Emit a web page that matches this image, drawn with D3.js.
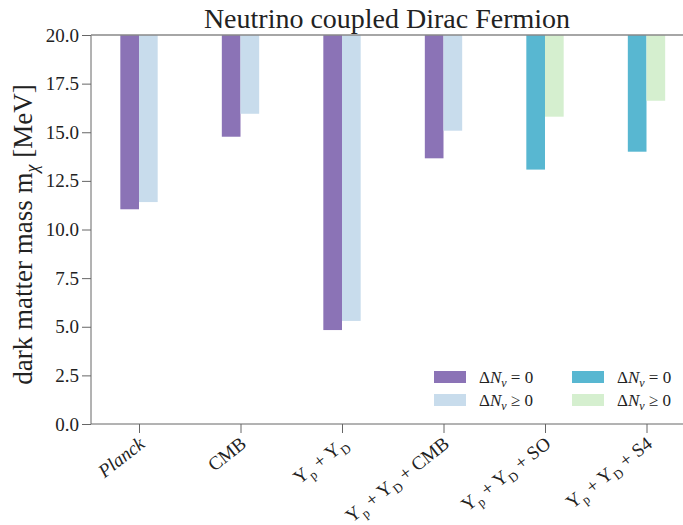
<!DOCTYPE html>
<html>
<head>
<meta charset="utf-8">
<script src="https://cdn.jsdelivr.net/npm/d3@7"></script>
<style>
  body { margin: 0; background: #fff; }
  text { font-family: 'Liberation Serif', 'DejaVu Serif', serif; fill: #222; }
</style>
</head>
<body>
<svg id="chart" width="683" height="525"></svg>
<script>
var categories = ['Planck', 'CMB', 'YpYD', 'YpYDCMB', 'YpYDSO', 'YpYDS4'];
// lower bound on m_chi, Delta N_nu = 0 and Delta N_nu >= 0
var fixedNeff = [11.04, 14.77, 4.83, 13.66, 13.08, 14.0];
var freeNeff = [11.41, 15.95, 5.3, 15.08, 15.8, 16.62];
var yTicks = [0, 2.5, 5, 7.5, 10, 12.5, 15, 17.5, 20];

var colFixed = ['#8b73b6', '#8b73b6', '#8b73b6', '#8b73b6', '#58b7d1', '#58b7d1'];
var colFree = ['#c8dcec', '#c8dcec', '#c8dcec', '#c8dcec', '#d5efcf', '#d5efcf'];

var margin = { top: 35, right: 0, bottom: 101, left: 91 };
var width = 683 - margin.left - margin.right;
var height = 525 - margin.top - margin.bottom;

var svg = d3.select('#chart');
var chart = svg.append('g')
  .attr('transform', 'translate(' + margin.left + ',' + margin.top + ')');

var x = d3.scalePoint().domain(categories).range([48, 555.5]);
var barW = x.step() * 0.184;
var y = d3.scaleLinear().domain([0, 20]).range([height, 0]);

// bars hang from the top of the plot down to the bound
chart.selectAll('.fixed')
  .data(categories)
  .enter().append('rect')
  .attr('class', 'fixed')
  .attr('x', d => x(d) - barW)
  .attr('y', y(20))
  .attr('width', barW)
  .attr('height', (d, i) => y(fixedNeff[i]) - y(20))
  .style('fill', (d, i) => colFixed[i]);

chart.selectAll('.free')
  .data(categories)
  .enter().append('rect')
  .attr('class', 'free')
  .attr('x', d => x(d))
  .attr('y', y(20))
  .attr('width', barW)
  .attr('height', (d, i) => y(freeNeff[i]) - y(20))
  .style('fill', (d, i) => colFree[i]);

// axes
var yAxis = d3.axisLeft(y).tickValues(yTicks).tickFormat(d3.format('.1f')).tickSize(9).tickPadding(3);
var gy = chart.append('g').attr('class', 'y axis').call(yAxis);
gy.selectAll('text').style('font-size', '19px').style('fill', '#222');

var xAxis = d3.axisBottom(x).tickSize(9).tickFormat('');
var gx = chart.append('g').attr('class', 'x axis')
  .attr('transform', 'translate(0,' + height + ')')
  .call(xAxis);

chart.selectAll('.domain').remove();
chart.selectAll('.tick line').style('stroke', '#666');

chart.append('line').attr('x1', 0).attr('x2', 0).attr('y1', 0).attr('y2', height).style('stroke', '#666');
chart.append('line').attr('x1', 0).attr('x2', width).attr('y1', height).attr('y2', height).style('stroke', '#666');
chart.append('line').attr('x1', 0).attr('x2', width).attr('y1', 0).attr('y2', 0).style('stroke', '#888').style('stroke-width', 1.5);

// x tick labels, rotated
var labelParts = {
  'Planck': [['Planck', 'i']],
  'CMB': [['CMB']],
  'YpYD': [['Y'], ['p', 's'], [' + Y'], ['D', 's']],
  'YpYDCMB': [['Y'], ['p', 's'], [' + Y'], ['D', 's'], [' + CMB']],
  'YpYDSO': [['Y'], ['p', 's'], [' + Y'], ['D', 's'], [' + SO']],
  'YpYDS4': [['Y'], ['p', 's'], [' + Y'], ['D', 's'], [' + S4']]
};
categories.forEach(function(c) {
  var t = chart.append('text')
    .attr('transform', 'translate(' + (x(c) + 7) + ',' + (height + 22) + ') rotate(-38)')
    .attr('text-anchor', 'end')
    .style('font-size', '19px');
  var shifted = false;
  labelParts[c].forEach(function(p) {
    var ts = t.append('tspan').text(p[0]);
    if (p[1] === 'i') ts.style('font-style', 'italic');
    if (p[1] === 's') {
      ts.attr('dy', 5).style('font-size', '13px');
      shifted = true;
    } else if (shifted) {
      ts.attr('dy', -5);
      shifted = false;
    }
  });
});

// y label
var yl = svg.append('text')
  .attr('transform', 'translate(32,' + (margin.top + height / 2 + 5) + ') rotate(-90)')
  .attr('text-anchor', 'middle')
  .style('font-size', '27px');
yl.append('tspan').text('dark matter mass m');
yl.append('tspan').text('χ').attr('dy', 6).style('font-size', '18px').style('font-style', 'italic');
yl.append('tspan').text(' [MeV]').attr('dy', -6);

// title
svg.append('text')
  .attr('x', margin.left + width / 2)
  .attr('y', 28)
  .attr('text-anchor', 'middle')
  .style('font-size', '28px')
  .text('Neutrino coupled Dirac Fermion');

// legend
var legendCols = [
  [colFixed[0], colFree[0]],
  [colFixed[5], colFree[5]]
];
var legendText = ['= 0', '≥ 0'];
var legend = svg.append('g');
legendCols.forEach(function(cols, ci) {
  cols.forEach(function(col, ri) {
    var lx = 434 + ci * 138;
    var ly = 377 + ri * 23;
    legend.append('rect')
      .attr('x', lx).attr('y', ly - 6)
      .attr('width', 32).attr('height', 12)
      .style('fill', col);
    var t = legend.append('text')
      .attr('x', lx + 45).attr('y', ly + 6)
      .style('font-size', '17px');
    t.append('tspan').text('Δ');
    t.append('tspan').text('N').style('font-style', 'italic');
    t.append('tspan').text('ν').attr('dy', 4).style('font-size', '12px').style('font-style', 'italic');
    t.append('tspan').text(' ' + legendText[ri]).attr('dy', -4);
  });
});
</script>
</body>
</html>
